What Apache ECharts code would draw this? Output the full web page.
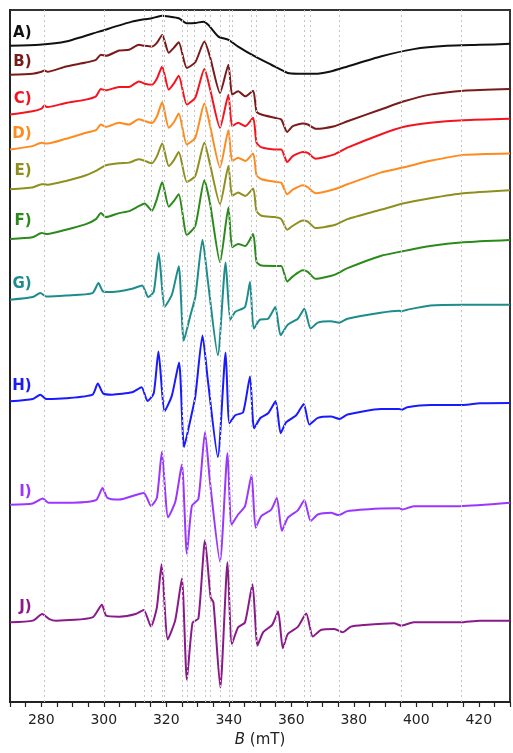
<!DOCTYPE html>
<html><head><meta charset="utf-8">
<script src="https://cdn.jsdelivr.net/npm/echarts@6/dist/echarts.min.js"></script>
<style>html,body{margin:0;padding:0;background:#fff}#c{width:513px;height:753px}</style>
</head><body><div id="c"></div>
<script>
// Magnetic field (mT) ticks / gridlines
const tickLabels = [280, 300, 320, 340, 360, 380, 400, 420];
const gridFields = [281.0, 300.0, 313.1, 315.3, 318.7, 319.4, 325.0, 326.6, 329.1, 332.5, 334.2, 337.3, 340.0, 341.0, 347.3, 348.9, 355.3, 357.6, 364.1, 366.2, 375.4, 395.2, 414.4];

const names = ['A)', 'B)', 'C)', 'D)', 'E)', 'F)', 'G)', 'H)', 'I)', 'J)'];
const offsets = [659, 630, 590, 555, 515, 465, 404, 302, 198, 80];

// trace A (field, signal)
const fieldA = [270, 279.4, 287.9, 298.5, 309.0, 313.8, 315.4, 318.6, 320.8, 324.0, 326.5, 329.3, 331.9, 333.5, 336.7, 339.9, 343.0, 348.4, 353.6, 358.9, 362.1, 367.4, 372.6, 378.0, 388.6, 399.2, 409.8, 420.3, 430];
const sigA   = [0, 1, 4.3, 14.3, 24.3, 27, 27.7, 30.3, 29.5, 27.7, 22.7, 23, 24.3, 21, 9.3, 6, -0.7, -10.7, -19, -27.3, -28, -28, -25.7, -20.7, -10.7, -3.3, 0, 1, 2];

// traces B-F share a field grid
const fieldBF = [270, 277.2, 280.1, 281.0, 282.0, 287.9, 294.3, 297.5, 299.1, 300.7, 304.9, 308.1, 311.2, 313.1, 315.4, 317.0, 318.7, 320.8, 322.4, 324.0, 326.6, 329.3, 332.2, 334.0, 337.2, 339.9, 341.1, 343.0, 345.3, 347.8, 348.9, 350.5, 354.7, 356.8, 358.7, 360.5, 363.7, 365.3, 367.8, 373.8, 378.0, 388.6, 396.1, 404.5, 415.1, 430];
const sigB = [0, 1, 3, 4.3, 3, 8.3, 12.3, 15, 20, 19, 24.3, 25, 30, 29, 28.3, 32, 40, 22, 27, 32.5, 6.7, 12.5, 33.3, 18, -18.3, 10, -20, -16.7, -21.7, -16, -37, -40, -43.3, -45, -57.5, -51.7, -49, -50, -54.3, -51.7, -46.7, -35, -26.7, -20, -16, -14.3];
const sigC = [0, 3.3, 6, 9, 7.5, 11.7, 15, 18.3, 25.7, 24.3, 27.7, 27.7, 33.3, 31, 30, 36, 48.3, 25, 31, 39, 10, 17, 45.7, 26, -13.3, 20, -11.7, -8.3, -11.7, -3.3, -28.3, -33, -35, -35, -47.7, -41.7, -37.7, -38.5, -44.3, -40, -33.3, -20, -12.3, -8.3, -5.7, -4.3];
const sigD = [0, 3.3, 6.7, 6, 6, 10.7, 16.7, 19.3, 25, 22.7, 26.7, 25, 30.3, 28.5, 26.5, 33, 47.3, 21.7, 27, 36, 5, 11.7, 46, 24, -18.3, 19.3, -11.7, -8.3, -11.7, -4, -26, -30, -32.5, -33.5, -45, -40.5, -36, -38, -44, -40, -35, -23.3, -18, -11.5, -5.5, -4];
const sigE = [0, 1.7, 5, 5, 4.5, 8.3, 14, 18.5, 21.5, 24, 26, 26.7, 30, 28.5, 26, 33, 46, 23.3, 29, 37.5, 7.3, 13.3, 46.7, 25, -15, 23.3, -6.7, -3.3, -6.7, 0.7, -22, -26.7, -28, -30, -40.7, -36.7, -31.3, -32.5, -39, -36, -30, -20.7, -14, -9, -4, -1];
const sigF = [0, 1.7, 6, 5.5, 5, 9.3, 15, 20, 26, 22, 26, 28, 33, 35.7, 28.3, 40, 57.3, 32.5, 38, 45, 4, 13.3, 59, 36, -23.3, 31.7, -8.3, -5, -7, 5, -23, -26.7, -27, -27, -42.7, -37.5, -31.5, -33, -40, -36, -29.3, -17, -12, -7, -3.3, -1];

// traces G-J: [field, signal]
const traceG = [[270, 0], [277.3, 2.7], [279.7, 6.7], [281.6, 3.3], [287.9, 4.3], [296.4, 6.7], [298.3, 16.7], [299.8, 8.3], [302.7, 7.7], [309.1, 11], [312.3, 14.3], [314.2, 2.7], [316.0, 8], [317.6, 47], [319.5, -7], [321.8, 5], [324.0, 33.7], [325.6, -41], [327.7, -16], [329.3, 3], [331.6, 60.3], [333.3, 19.3], [336.5, -55.7], [339.0, 37.5], [340.5, -20], [342.1, -12], [345.2, -7.3], [346.8, 17.7], [348.0, -29], [350.0, -20], [352.6, -19], [354.9, -7.3], [356.6, -35.7], [358.9, -25], [362.1, -19], [364.2, -9], [366.2, -29], [368.5, -23], [372.7, -21.7], [375.4, -23], [378.0, -19], [388.6, -13], [394.5, -11], [395.2, -11.7], [397.1, -10], [404.5, -5.7], [415.1, -5], [430, -5]];
const traceH = [[270, 0], [277.3, 2.3], [279.7, 6.7], [281.6, 2.3], [287.9, 3], [296.4, 6.7], [298.1, 18], [299.8, 8], [302.7, 6.7], [309.1, 9], [312.1, 14], [314.0, 0.3], [316.0, 8], [317.5, 50], [319.5, -10], [321.8, 5.7], [324.1, 39], [325.7, -46], [327.7, -19], [329.3, 5], [331.6, 66], [333.3, 21.5], [336.5, -56], [339.0, 49], [340.2, -22], [342.1, -14], [344.6, -11], [346.8, 25], [348.1, -27], [350.2, -16.5], [352.6, -12], [355.0, 0], [356.6, -32], [358.4, -21], [361.6, -14], [364.0, -2.7], [365.8, -23.3], [368.5, -16.7], [372.7, -15.3], [375.4, -17.7], [378.0, -13.3], [388.6, -7.7], [394.5, -7.7], [395.5, -8.5], [397.1, -6], [404.5, -3.7], [415.1, -3.7], [420.3, -2], [430, -1.7]];
const traceI = [[270, 0], [277.2, 1.3], [280.5, 6.3], [282.4, 2], [287.9, 2], [297.5, 4.7], [299.6, 17], [301.2, 7], [304.9, 5.3], [312.8, 12], [315.1, -1], [317.0, 7], [318.6, 53], [320.6, -12.5], [322.9, 3], [325.0, 40.5], [326.6, -49], [328.2, -1], [330.3, 6], [332.4, 73], [334.0, 23], [337.2, -57], [339.6, 52], [340.9, -19.7], [343.0, -9.7], [345.2, -1.3], [347.3, 30], [348.6, -23], [350.4, -11.3], [353.6, -4.7], [355.4, 7], [357.0, -26], [358.9, -13], [362.1, -5.5], [364.2, 4.7], [366.2, -16.3], [368.5, -9.7], [372.7, -8], [375.1, -10.3], [378.0, -6.3], [388.6, -3.7], [394.6, -3.5], [395.5, -4.7], [399.2, -1.3], [414.0, -1.3], [430, 2]];
const traceJ = [[270, 0], [277.3, 1.7], [280.3, 8.3], [282.6, 3.3], [284.8, 1.7], [296.4, 5], [299.4, 17.7], [300.8, 6.7], [304.9, 5.7], [310.2, 8.3], [312.8, 12.5], [315.1, -4.2], [317.0, 15], [318.5, 58.3], [320.5, -17.2], [322.9, 2.5], [325.0, 44], [326.6, -57.5], [328.4, -0.5], [330.3, 4], [332.4, 82.5], [334.2, 25], [335.1, 20], [337.3, -65.5], [339.6, 60.3], [341.0, -21.7], [343.0, -5], [345.2, 0], [347.6, 38.3], [349.2, -23.3], [351.0, -10], [353.9, -2.5], [355.8, 10.8], [357.3, -26], [358.9, -11.7], [362.1, -4.5], [364.8, 9], [366.9, -14.3], [369.5, -7.7], [373.8, -6.7], [376.4, -10], [379.1, -4.3], [383.3, -2.7], [392.9, -1], [395.2, -3.3], [399.2, 0], [414.0, 0], [420.3, 1.7], [430, 1.7]];

const colors = ['#111111', '#7a1a1a', '#f5141e', '#ff8a1e', '#8f8f1e', '#2a8a1a', '#1c8c8c', '#1a1aff', '#9a36ff', '#8a1a8a'];
const labelLift = [13, 13, 16, 15, 18, 18, 16, 15, 13, 15];

const zip = (f, s) => f.map((x, i) => [x, s[i]]);
const rawTraces = [
  zip(fieldA, sigA), zip(fieldBF, sigB), zip(fieldBF, sigC), zip(fieldBF, sigD),
  zip(fieldBF, sigE), zip(fieldBF, sigF), traceG, traceH, traceI, traceJ
];

const font = 'DejaVu Sans';
const series = [{
  type: 'line', data: [], silent: true,
  markLine: {
    silent: true, symbol: ['none', 'none'], label: {show: false},
    lineStyle: {type: [2, 3], color: '#c4c4c4', width: 1},
    data: gridFields.map(v => ({xAxis: v}))
  }
}];
rawTraces.forEach((tr, k) => {
  series.push({
    type: 'line', name: names[k], showSymbol: false, smooth: 0.2,
    lineStyle: {color: colors[k], width: 2}, itemStyle: {color: colors[k]},
    data: tr.map(p => [p[0], offsets[k] + p[1]]),
    markPoint: {
      symbol: 'circle', symbolSize: 0,
      data: [{
        coord: [276.9, offsets[k] + labelLift[k]],
        label: {show: true, formatter: names[k], position: 'left', distance: 0,
          color: colors[k], fontSize: 15, fontWeight: 'bold', fontFamily: font}
      }]
    }
  });
});

const chart = echarts.init(document.getElementById('c'), null, {renderer: 'canvas'});
chart.setOption({
  animation: false,
  backgroundColor: '#ffffff',
  grid: {left: 10, right: 0, top: 10, bottom: 47, show: true, borderColor: '#333', borderWidth: 2, backgroundColor: 'transparent'},
  xAxis: {
    type: 'value', min: 270, max: 430, interval: 5,
    axisLine: {show: true, lineStyle: {color: '#222', width: 2}},
    axisTick: {show: true, inside: false, length: 5, lineStyle: {color: '#222', width: 1.2}},
    axisLabel: {
      margin: 11, fontSize: 14, fontFamily: font, color: '#222',
      formatter: v => (tickLabels.indexOf(v) >= 0 ? String(v) : '')
    },
    splitLine: {show: false},
    name: '{i|B} (mT)', nameLocation: 'middle', nameGap: 31,
    nameTextStyle: {fontSize: 15, fontFamily: font, color: '#222',
      rich: {i: {fontStyle: 'italic', fontSize: 15, fontFamily: font, color: '#222'}}}
  },
  yAxis: {
    type: 'value', min: 0, max: 695,
    axisLine: {show: true, lineStyle: {color: '#222', width: 2}},
    axisTick: {show: false}, axisLabel: {show: false}, splitLine: {show: false}
  },
  series: series
});
</script>
</body></html>
